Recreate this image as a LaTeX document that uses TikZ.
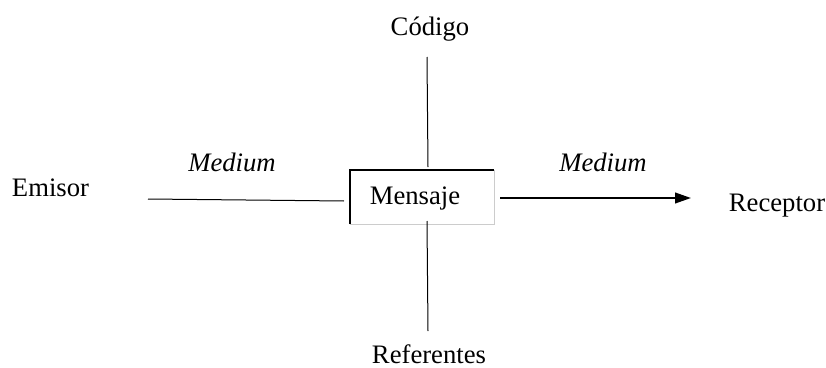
\documentclass[tikz,border=0pt]{standalone}
\usepackage{fontspec}
\setmainfont{Liberation Serif}
\usetikzlibrary{arrows.meta}
\begin{document}
\begin{tikzpicture}[x=0.75pt,y=-0.75pt,
  lbl/.style={font=\fontsize{20}{24}\selectfont, inner sep=0pt},
  med/.style={lbl, font=\fontsize{20}{24}\selectfont\itshape},
  conn/.style={line width=0.75pt, black},
  arr/.style={line width=1.5pt, black, -{Triangle[length=12pt,width=8pt]}}]
\useasboundingbox (0,0) rectangle (826,368);
% labels
\node[lbl] (codigo) at (430,29) {Código};
\node[lbl] (emisor) at (50.5,187.5) {Emisor};
\node[lbl] (receptor) at (777,205.5) {Receptor};
\node[lbl] (referentes) at (429,354) {Referentes};
\node[med] (med1) at (232,162) {Medium};
\node[med] (med2) at (603,162) {Medium};
% box
\coordinate (bTL) at (350,170);
\coordinate (bBR) at (494,224);
\fill[white] (bTL) rectangle (bBR);
\draw[line width=0.5pt, gray!40] (494,170) -- (494,224) -- (350,224);
\draw[line width=1.5pt, black] (350,224) -- (350,170) -- (494,170);
\node[lbl] (mensaje) at (415,199) {Mensaje};
% connectors
\coordinate (t1) at (427,57);
\coordinate (t2) at (428,167);
\coordinate (b1) at (427,221);
\coordinate (b2) at (428,331);
\coordinate (l1) at (148,199);
\coordinate (l2) at (344,201);
\coordinate (a1) at (500,198);
\coordinate (a2) at (691,198);
\draw[conn] (t1) -- (t2);
\draw[conn] (b1) -- (b2);
\draw[conn] (l1) -- (l2);
\draw[arr] (a1) -- (a2);
\end{tikzpicture}
\end{document}
